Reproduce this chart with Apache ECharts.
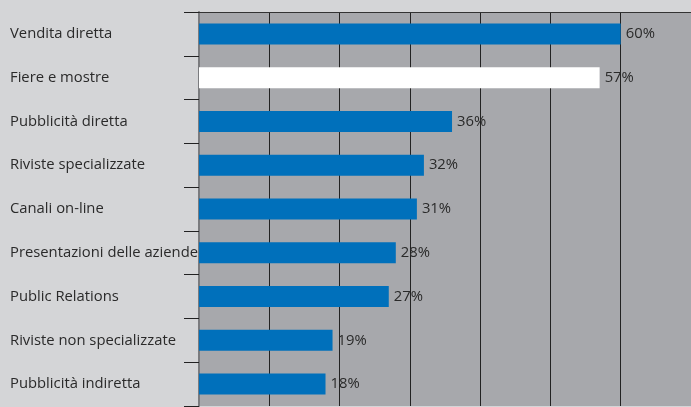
<!DOCTYPE html>
<html>
<head>
<meta charset="utf-8">
<script src="https://cdn.jsdelivr.net/npm/echarts@6/dist/echarts.min.js"></script>
<style>
  html, body { margin: 0; padding: 0; background: #d4d5d7; }
  #chart { width: 691px; height: 407px; }
</style>
</head>
<body>
<div id="chart"></div>
<script>
// canali di vendita, dall'alto verso il basso
const categories = [
  'Vendita diretta',
  'Fiere e mostre',
  'Pubblicità diretta',
  'Riviste specializzate',
  'Canali on-line',
  'Presentazioni delle aziende',
  'Public Relations',
  'Riviste non specializzate',
  'Pubblicità indiretta'
]
const values = [60, 57, 36, 32, 31, 28, 27, 19, 18]
// la seconda barra è bianca
const highlight = [false, true, false, false, false, false, false, false, false]

const chart = echarts.init(document.getElementById('chart'))
chart.setOption({
  backgroundColor: '#d4d5d7',
  animation: false,
  textStyle: { fontFamily: 'Open Sans' },
  grid: {
    left: 199,
    right: -1,
    top: 12,
    bottom: 1,
    show: true,
    backgroundColor: '#a7a8ac',
    borderWidth: 0
  },
  xAxis: {
    type: 'value',
    position: 'top',
    min: 0,
    max: 70,
    interval: 10,
    axisLine: { show: true, lineStyle: { color: '#333', width: 1 } },
    axisTick: { show: false },
    axisLabel: { show: false },
    splitLine: { show: true, lineStyle: { color: '#222', width: 1 } }
  },
  yAxis: {
    type: 'category',
    data: categories,
    inverse: true,
    axisLine: { show: true, lineStyle: { color: '#7a7b7e', width: 2 } },
    axisTick: { show: true, length: 15, lineStyle: { color: '#222' } },
    axisLabel: {
      align: 'left',
      margin: 189,
      color: '#2a2a2a',
      fontSize: 14.8,
      fontFamily: 'Open Sans'
    }
  },
  series: [{
    type: 'bar',
    barWidth: 21,
    data: values.map((v, i) => ({
      value: v,
      itemStyle: { color: highlight[i] ? '#ffffff' : '#0070bb' }
    })),
    label: {
      show: true,
      position: 'right',
      distance: 5,
      formatter: '{c}%',
      color: '#2a2a2a',
      fontSize: 14.8,
      fontFamily: 'Open Sans'
    }
  }]
})
</script>
</body>
</html>
